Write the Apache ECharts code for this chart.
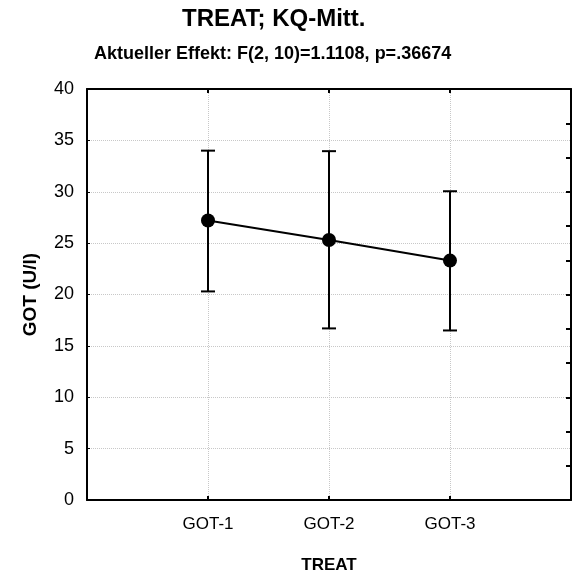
<!DOCTYPE html>
<html>
<head>
<meta charset="utf-8">
<script src="https://cdn.jsdelivr.net/npm/echarts@6/dist/echarts.min.js"></script>
<style>
  html, body { margin: 0; padding: 0; background: #fff; }
  #chart { width: 574px; height: 581px; }
</style>
</head>
<body>
<div id="chart"></div>
<script>
const categories = ['GOT-1', 'GOT-2', 'GOT-3'];
const means = [27.2, 25.3, 23.3];
const upper = [34.0, 33.95, 30.05];
const lower = [20.3, 16.7, 16.5];
const yTicks = [0, 5, 10, 15, 20, 25, 30, 35, 40];

const font = 'Liberation Sans, Arial, sans-serif';
const pos = categories.map((c, i) => i + 1);
const lineData = pos.map((x, i) => [x, means[i]]);
const errData = pos.map((x, i) => [x, lower[i], upper[i]]);

const element = document.getElementById('chart');
const chart = echarts.init(element);
chart.setOption({
  animation: false,
  backgroundColor: '#fff',
  title: [
    {
      text: 'TREAT; KQ-Mitt.',
      left: 177,
      top: 2,
      textStyle: { fontFamily: font, fontSize: 24, fontWeight: 'bold', color: '#000' },
    },
    {
      text: 'Aktueller Effekt: F(2, 10)=1.1108, p=.36674',
      left: 89,
      top: 40,
      textStyle: { fontFamily: font, fontSize: 18, fontWeight: 'bold', color: '#000' },
    },
  ],
  grid: { left: 87, right: 3, top: 89, bottom: 81, containLabel: false },
  xAxis: [
    {
      type: 'value',
      min: 0,
      max: 4,
      interval: 1,
      name: 'TREAT',
      nameLocation: 'middle',
      nameGap: 57,
      nameTextStyle: { fontFamily: font, fontSize: 17, fontWeight: 'bold', color: '#000', verticalAlign: 'top' },
      axisLine: { show: true, onZero: false, lineStyle: { color: '#000', width: 2 } },
      axisTick: { show: true, inside: true, length: 4, lineStyle: { color: '#000', width: 2 } },
      axisLabel: {
        margin: 16,
        fontFamily: font,
        fontSize: 17,
        color: '#000',
        formatter: (v) => categories[v - 1] || '',
      },
      splitLine: { show: true, lineStyle: { color: '#c8c8c8', type: 'dotted', width: 1 } },
    },
    {
      type: 'value',
      position: 'top',
      min: 0,
      max: 4,
      interval: 1,
      axisLine: { show: true, onZero: false, lineStyle: { color: '#000', width: 2 } },
      axisTick: { show: true, inside: true, length: 4, lineStyle: { color: '#000', width: 2 } },
      axisLabel: { show: false },
      splitLine: { show: false },
    },
  ],
  yAxis: [
    {
      type: 'value',
      min: yTicks[0],
      max: yTicks[yTicks.length - 1],
      interval: 5,
      name: 'GOT (U/l)',
      nameLocation: 'middle',
      nameGap: 47,
      nameTextStyle: { fontFamily: font, fontSize: 19, fontWeight: 'bold', color: '#000' },
      axisLine: { show: true, onZero: false, lineStyle: { color: '#000', width: 2 } },
      axisTick: { show: true, inside: true, length: 3, lineStyle: { color: '#000', width: 1 } },
      axisLabel: { margin: 13, fontFamily: font, fontSize: 18, color: '#000' },
      splitLine: { show: true, lineStyle: { color: '#c8c8c8', type: 'dotted', width: 1 } },
    },
    {
      type: 'value',
      position: 'right',
      min: 0,
      max: 40,
      interval: 10,
      axisLine: { show: true, onZero: false, lineStyle: { color: '#000', width: 2 } },
      axisTick: { show: true, inside: true, length: 5, lineStyle: { color: '#000', width: 2 } },
      minorTick: { show: true, splitNumber: 3, length: 5, lineStyle: { color: '#000', width: 2 } },
      axisLabel: { show: false },
      splitLine: { show: false },
    },
  ],
  series: [
    {
      name: 'err',
      type: 'custom',
      xAxisIndex: 0,
      yAxisIndex: 0,
      data: errData,
      z: 3,
      renderItem: (params, api) => {
        const x = api.value(0);
        const lo = api.coord([x, api.value(1)]);
        const hi = api.coord([x, api.value(2)]);
        const w = 7;
        const style = { stroke: '#000', lineWidth: 2 };
        return {
          type: 'group',
          children: [
            { type: 'line', shape: { x1: lo[0], y1: lo[1], x2: hi[0], y2: hi[1] }, style },
            { type: 'line', shape: { x1: hi[0] - w, y1: hi[1], x2: hi[0] + w, y2: hi[1] }, style },
            { type: 'line', shape: { x1: lo[0] - w, y1: lo[1], x2: lo[0] + w, y2: lo[1] }, style },
          ],
        };
      },
    },
    {
      name: 'mean',
      type: 'line',
      xAxisIndex: 0,
      yAxisIndex: 0,
      data: lineData,
      z: 4,
      symbol: 'circle',
      symbolSize: 14,
      showAllSymbol: true,
      itemStyle: { color: '#000' },
      lineStyle: { color: '#000', width: 2 },
    },
  ],
});
</script>
</body>
</html>
